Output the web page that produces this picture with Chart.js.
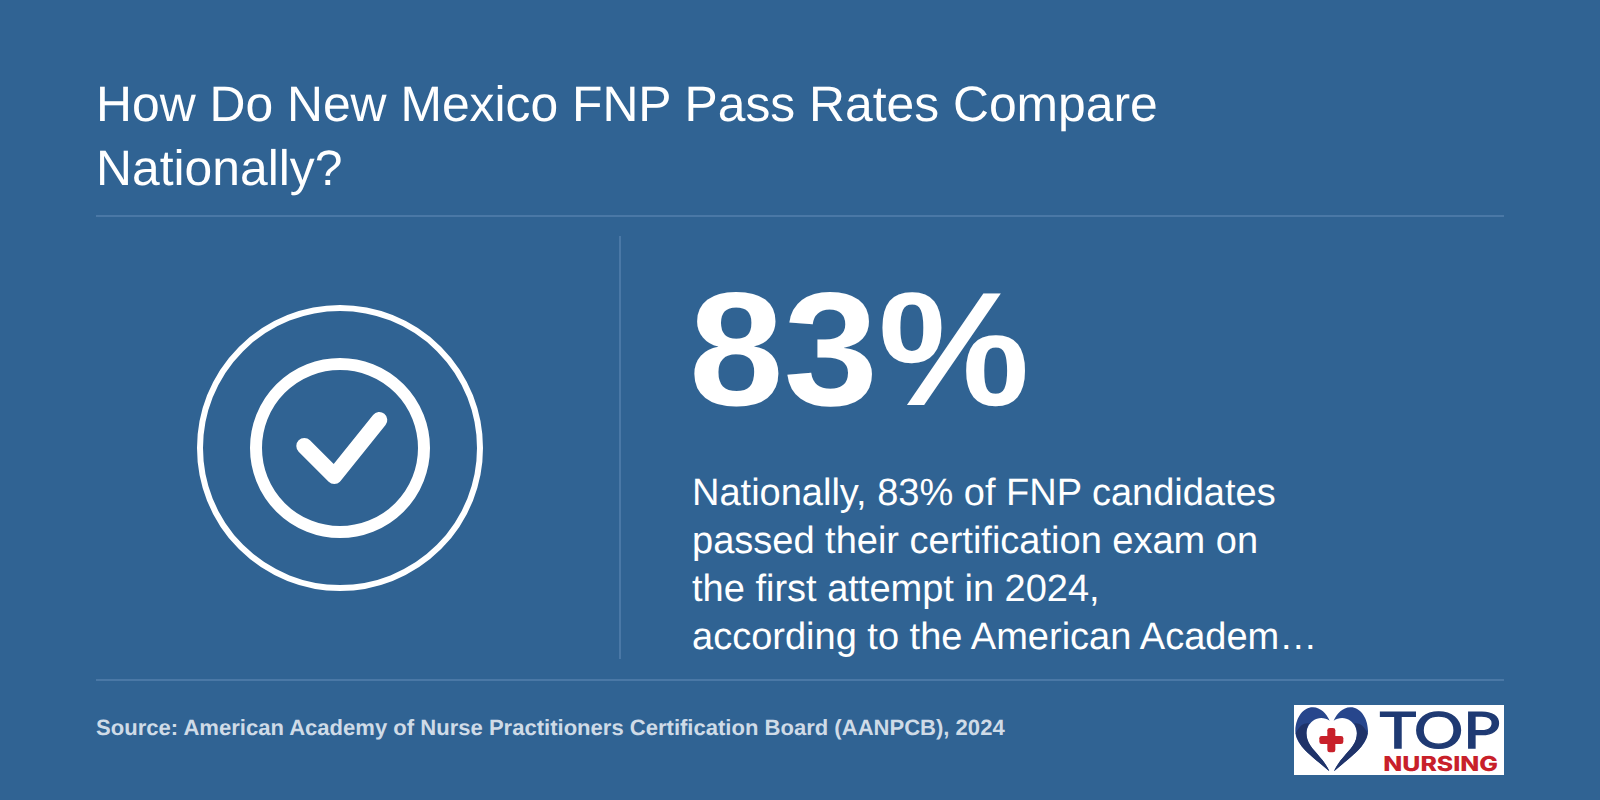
<!DOCTYPE html>
<html>
<head>
<meta charset="utf-8">
<title>New Mexico FNP Pass Rates</title>
<script src="https://cdn.jsdelivr.net/npm/chart.js@4"></script>
<style>
  html, body { margin: 0; padding: 0; }
  body { width: 1600px; height: 800px; background: #306393; overflow: hidden; position: relative;
         font-family: "Liberation Sans", Arial, sans-serif; color: #fff; text-rendering: geometricPrecision; }
  .abs { position: absolute; white-space: nowrap; }
  .rule { position: absolute; background: #4a78a6; }
  #title { left: 96px; top: 72px; font-size: 49.8px; line-height: 64px; }
  #stat { left: 689px; top: 255px; font-size: 162px; line-height: 190px; font-weight: 700; transform: scaleX(1.05); transform-origin: left top; }
  #body { left: 692px; top: 469px; font-size: 38px; line-height: 48px; }
  #source { left: 96px; top: 716px; font-size: 22.05px; line-height: 24px; font-weight: 700; color: #cfdbe7; }
  #icon { position: absolute; left: 140px; top: 248px; width: 400px; height: 400px; }
  #logo { position: absolute; left: 1294px; top: 705px; width: 210px; height: 70px; background: #fff; overflow: visible; }
</style>
</head>
<body>
  <div class="abs" id="title">How Do New Mexico FNP Pass Rates Compare<br>Nationally?</div>
  <div class="rule" style="left:96px;top:215px;width:1408px;height:2px"></div>
  <div class="rule" style="left:619px;top:236px;width:2px;height:423px"></div>
  <div class="rule" style="left:96px;top:679px;width:1408px;height:2px"></div>

  <canvas id="icon" width="400" height="400"></canvas>

  <div class="abs" id="stat"></div>
  <div class="abs" id="body">Nationally, 83% of FNP candidates<br>passed their certification exam on<br>the first attempt in 2024,<br>according to the American Academ…</div>
  <div class="abs" id="source">Source: American Academy of Nurse Practitioners Certification Board (AANPCB), 2024</div>

  <svg id="logo" viewBox="15 15 630 210" xmlns="http://www.w3.org/2000/svg">
    <path d="M121 214 C80 175 18 140 19 92 C20 50 45 21 72 22 C95 23 112 40 122 62 C108 52 88 50 72 62 C55 75 48 95 55 118 C65 150 105 175 121 214Z" fill="#27468c"/>
    <path d="M135 214 C176 175 238 140 237 92 C236 50 211 21 184 22 C161 23 144 40 134 62 C148 52 168 50 184 62 C201 75 208 95 201 118 C191 150 151 175 135 214Z" fill="#27468c"/>
    <path d="M121 214 C85 180 30 150 20 100 C32 75 45 68 60 70 C52 85 50 100 55 118 C65 150 105 175 121 214Z" fill="#1f3369"/>
    <path d="M135 214 C171 180 226 150 236 100 C224 75 211 68 196 70 C204 85 206 100 201 118 C191 150 151 175 135 214Z" fill="#1f3369"/>
    <rect x="115" y="84" width="24" height="73" rx="7" fill="#c8202a"/>
    <rect x="91" y="108" width="72" height="24" rx="7" fill="#c8202a"/>
    <text x="272" y="145" font-family="Lato, Inter, sans-serif" font-size="150" font-weight="400" fill="#1f3a73" stroke="#1f3a73" stroke-width="4" textLength="362" lengthAdjust="spacingAndGlyphs">TOP</text>
    <text x="283" y="213" font-family="Inter, Lato, sans-serif" font-size="62" font-weight="800" fill="#c8202a" textLength="344" lengthAdjust="spacingAndGlyphs">NURSING</text>
  </svg>

<script>
const passRate = 83;
const ringX = [0];
const ringY = [0];
const checkX = [-35.7, -5.7, 39.3];
const checkY = [2, -28, 28];

document.getElementById('stat').textContent = passRate + '%';

const toPoints = (xs, ys) => xs.map((x, i) => ({ x: x, y: ys[i] }));

window.onload = function() {
  const ctx = document.getElementById('icon').getContext('2d');
  new Chart(ctx, {
    type: 'scatter',
    data: {
      datasets: [
        {
          label: 'Outer ring',
          data: toPoints(ringX, ringY),
          pointRadius: 140,
          pointBorderWidth: 6,
          pointBorderColor: '#fff',
          pointBackgroundColor: 'transparent',
        },
        {
          label: 'Inner ring',
          data: toPoints(ringX, ringY),
          pointRadius: 84,
          pointBorderWidth: 12,
          pointBorderColor: '#fff',
          pointBackgroundColor: 'transparent',
        },
        {
          label: 'Check',
          data: toPoints(checkX, checkY),
          showLine: true,
          tension: 0,
          borderColor: '#fff',
          borderWidth: 16,
          borderCapStyle: 'round',
          borderJoinStyle: 'round',
          pointRadius: 0,
        },
      ],
    },
    options: {
      responsive: false,
      animation: false,
      // big ring points would otherwise shrink the plot area
      layout: { padding: 0, autoPadding: false },
      plugins: { legend: { display: false }, tooltip: { enabled: false } },
      scales: {
        x: { type: 'linear', display: false, min: -200, max: 200 },
        y: { type: 'linear', display: false, min: -200, max: 200 },
      },
    },
  });
};
</script>
</body>
</html>
